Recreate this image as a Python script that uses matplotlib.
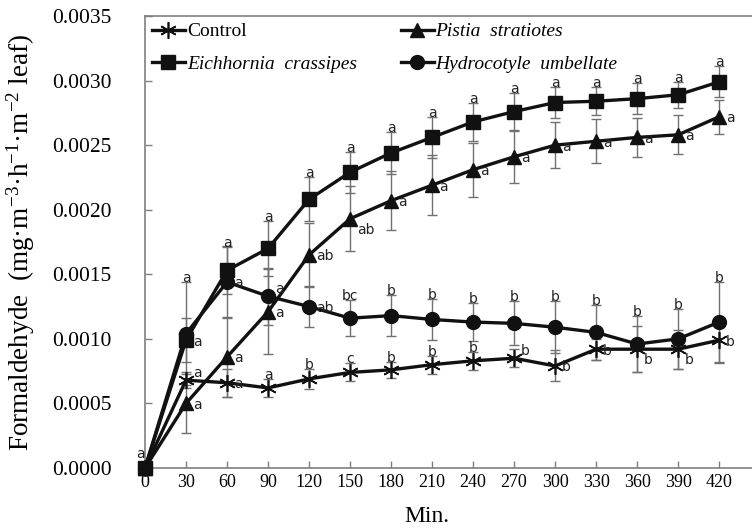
import matplotlib
matplotlib.use("Agg")
import matplotlib.pyplot as plt
import numpy as np

plt.rcParams['font.family'] = ['Liberation Serif', 'DejaVu Serif']
plt.rcParams['mathtext.fontset'] = 'custom'
plt.rcParams['mathtext.rm'] = 'Liberation Serif'
plt.rcParams['mathtext.it'] = 'Liberation Serif:italic'

# time points (min)
minutes = [0, 30, 60, 90, 120, 150, 180, 210, 240, 270, 300, 330, 360, 390, 420]

control = [0, 0.00068, 0.00066, 0.00062, 0.00069, 0.00074, 0.00076, 0.00080,
           0.00083, 0.00085, 0.00079, 0.00092, 0.00092, 0.00092, 0.00099]
control_err = [0, 0.00006, 0.00011, 0.00007, 0.00008, 0.00007, 0.00006, 0.00007,
               0.00007, 0.00007, 0.00012, 0.00008, 0.00018, 0.00015, 0.00018]

eich = [0, 0.00099, 0.00153, 0.00170, 0.00208, 0.00229, 0.00244, 0.00256,
        0.00268, 0.00276, 0.00283, 0.00284, 0.00286, 0.00289, 0.00299]
eich_err = [0, 0.00017, 0.00018, 0.00021, 0.00017, 0.00016, 0.00016, 0.00016,
            0.00015, 0.00014, 0.00012, 0.00011, 0.00012, 0.00010, 0.00012]

pistia = [0, 0.00050, 0.00086, 0.00121, 0.00165, 0.00193, 0.00207, 0.00219,
          0.00231, 0.00241, 0.00250, 0.00253, 0.00256, 0.00258, 0.00272]
pistia_err = [0, 0.00023, 0.00031, 0.00033, 0.00025, 0.00025, 0.00023, 0.00023,
              0.00021, 0.00020, 0.00018, 0.00017, 0.00015, 0.00015, 0.00013]

hydro = [0, 0.00104, 0.00144, 0.00133, 0.00125, 0.00116, 0.00118, 0.00115,
         0.00113, 0.00112, 0.00109, 0.00105, 0.00096, 0.00100, 0.00113]
hydro_err = [0, 0.00040, 0.00028, 0.00022, 0.00016, 0.00014, 0.00016, 0.00016,
             0.00015, 0.00017, 0.00020, 0.00021, 0.00022, 0.00023, 0.00031]

# significance letters
control_lab = ['a', 'a', 'a', 'a', 'b', 'c', 'b', 'b', 'b', 'b', 'b', 'b', 'b', 'b', 'b']
eich_lab = ['', 'a', 'a', 'a', 'a', 'a', 'a', 'a', 'a', 'a', 'a', 'a', 'a', 'a', 'a']
pistia_lab = ['', 'a', 'a', 'a', 'ab', 'ab', 'a', 'a', 'a', 'a', 'a', 'a', 'a', 'a', 'a']
hydro_lab = ['', 'a', 'a', 'a', 'ab', 'bc', 'b', 'b', 'b', 'b', 'b', 'b', 'b', 'b', 'b']

# where each letter sits: u = above bar, r = right, ru/rd = right up/down, o = origin
control_pos = ['o', 'ru', 'r', 'u', 'u', 'u', 'u', 'u', 'u', 'ru', 'r', 'r', 'rd', 'rd', 'r']
eich_pos = ['', 'r', 'u', 'u', 'u', 'u', 'u', 'u', 'u', 'u', 'u', 'u', 'u', 'u', 'u']
pistia_pos = ['', 'r', 'r', 'r', 'r', 'rd', 'r', 'r', 'r', 'r', 'r', 'r', 'r', 'r', 'r']
hydro_pos = ['', 'u', 'r', 'ru', 'r', 'u', 'u', 'u', 'u', 'u', 'u', 'u', 'u', 'u', 'u']

offsets = {'r': (5, -1), 'ru': (5, 5), 'rd': (5, -8), 'o': (-3, 10)}

fig = plt.figure(figsize=(7.52, 5.30), dpi=100)
ax = fig.add_axes([145 / 752, 62 / 530, 607 / 752, 452 / 530])

series = [
    ('Control', control, control_err, control_lab, control_pos, dict(marker=(6, 2, 0), markersize=12, mew=1.2)),
    ('Eichhornia  crassipes', eich, eich_err, eich_lab, eich_pos, dict(marker='s', markersize=10)),
    ('Pistia  stratiotes', pistia, pistia_err, pistia_lab, pistia_pos, dict(marker='^', markersize=10.5)),
    ('Hydrocotyle  umbellate', hydro, hydro_err, hydro_lab, hydro_pos, dict(marker='o', markersize=10)),
]

handles = []
for name, vals, err, labs, pos, mk in series:
    ax.errorbar(minutes, vals, yerr=err, fmt='none', ecolor='#707070',
                elinewidth=1.0, capsize=3.5, capthick=1.0, zorder=1)
    ln, = ax.plot(minutes, vals, color='#111111', lw=2.4, mfc='#111111',
                  mec='#111111', label=name, zorder=3, clip_on=False, **mk)
    handles.append(ln)
    for xi, yi, ei, lab, p in zip(minutes, vals, err, labs, pos):
        if not lab:
            continue
        if p == 'u':
            ax.annotate(lab, (xi, yi + ei), xytext=(0, 0), textcoords='offset points',
                        ha='center', va='baseline', fontsize=10,
                        family='DejaVu Sans', color='#222222', zorder=4)
        else:
            ax.annotate(lab, (xi, yi), xytext=offsets[p], textcoords='offset points',
                        ha='left' if p != 'o' else 'center', va='center', fontsize=10,
                        family='DejaVu Sans', color='#222222', zorder=4)

ax.set_xlim(0, 444)
ax.set_ylim(0, 0.0035)
ax.set_xticks(minutes)
ax.set_yticks(np.arange(0, 0.00351, 0.0005))
ax.yaxis.set_major_formatter(matplotlib.ticker.FormatStrFormatter('%.4f'))

for s in ['left', 'bottom', 'top']:
    ax.spines[s].set_color('#7f7f7f')
    ax.spines[s].set_linewidth(1.2)
ax.spines['right'].set_visible(False)

ax.tick_params(axis='both', direction='in', length=5, color='#7f7f7f', width=1)
ax.tick_params(axis='y', labelsize=15.5, pad=24)
ax.tick_params(axis='x', labelsize=13, pad=4)

ax.set_ylabel('Formaldehyde  (mg·m$^{-3}$·h$^{-1}$·m$^{-2}$ leaf)', fontsize=19.5)
ax.yaxis.set_label_coords(-0.178, 0.5)
ax.set_xlabel('Min.', fontsize=17)
ax.xaxis.set_label_coords(0.465, -0.085)

leg = ax.legend(handles=handles, ncol=2, loc='upper left', bbox_to_anchor=(0, 1.0),
                frameon=False, fontsize=14, handlelength=1.7, handletextpad=0.1,
                columnspacing=2.25, labelspacing=0.75, borderpad=0.35, borderaxespad=0.0)
for t in leg.get_texts():
    if t.get_text() != 'Control':
        t.set_style('italic')

fig.savefig('out.png', dpi=100)
